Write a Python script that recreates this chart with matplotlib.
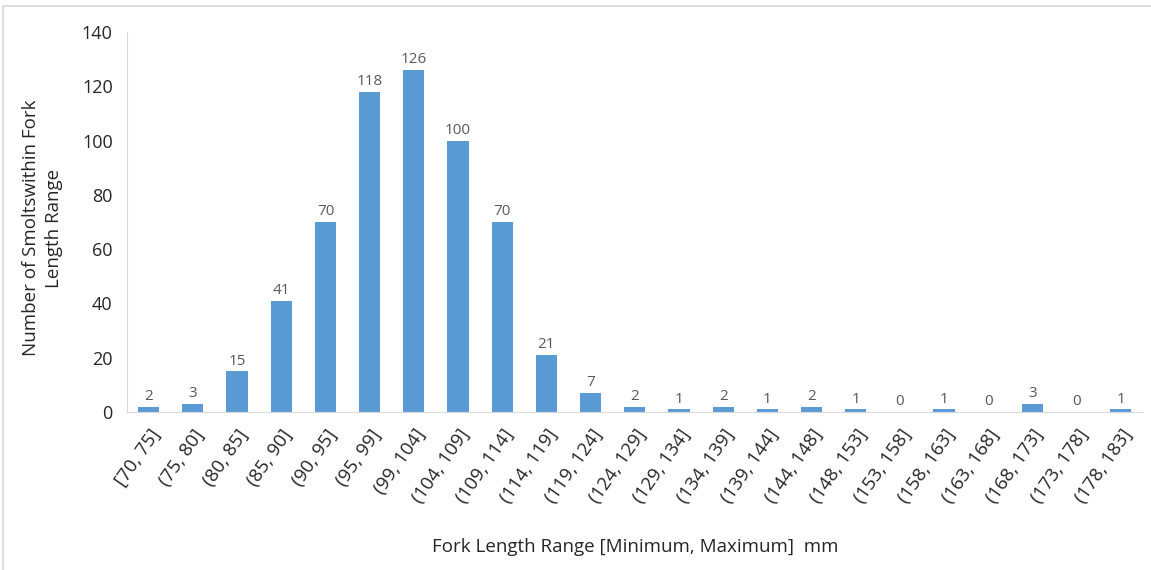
import matplotlib.pyplot as plt
from matplotlib.patches import Rectangle

ranges = ["[70, 75]", "(75, 80]", "(80, 85]", "(85, 90]", "(90, 95]", "(95, 99]",
          "(99, 104]", "(104, 109]", "(109, 114]", "(114, 119]", "(119, 124]",
          "(124, 129]", "(129, 134]", "(134, 139]", "(139, 144]", "(144, 148]",
          "(148, 153]", "(153, 158]", "(158, 163]", "(163, 168]", "(168, 173]",
          "(173, 178]", "(178, 183]"]
counts = [2, 3, 15, 41, 70, 118, 126, 100, 70, 21, 7, 2, 1, 2, 1, 2, 1, 0, 1, 0, 3, 0, 1]

plt.rcParams['font.family'] = ['Open Sans', 'DejaVu Sans']

fig = plt.figure(figsize=(11.51, 5.70), dpi=100)
ax = fig.add_axes([0.110, 0.277, 0.883, 0.667])

x = list(range(len(ranges)))
bars = ax.bar(x, counts, width=0.48, color='#5B9BD5')
ax.bar_label(bars, labels=[str(c) for c in counts], padding=2, fontsize=11, color='#595959')

ax.set_xlim(-0.5, len(ranges) - 0.5)
ax.set_ylim(0, 140)
ax.set_yticks(range(0, 141, 20))
ax.set_xticks(x)
ax.set_xticklabels(ranges, rotation=55, ha='right', rotation_mode='anchor', fontsize=13.5, color='#262626')
ax.tick_params(axis='y', labelsize=13, labelcolor='#262626', length=0, pad=10)
ax.tick_params(axis='x', length=0, pad=10)

for s in ['top', 'right']:
    ax.spines[s].set_visible(False)
for s in ['left', 'bottom']:
    ax.spines[s].set_color('#d9d9d9')

fig.text(0.552, 0.04, "Fork Length Range [Minimum, Maximum]  mm", ha='center', va='center',
         fontsize=13.5, color='#262626')
fig.text(0.037, 0.60, "Number of Smoltswithin Fork\nLength Range", ha='center', va='center',
         rotation=90, fontsize=13.5, color='#262626', linespacing=1.4)

fig.patches.append(Rectangle((0.003, -0.01), 1.2, 1.0, transform=fig.transFigure,
                             fill=False, edgecolor='#d9d9d9', linewidth=1.2))

fig.savefig('out.png', dpi=100)
